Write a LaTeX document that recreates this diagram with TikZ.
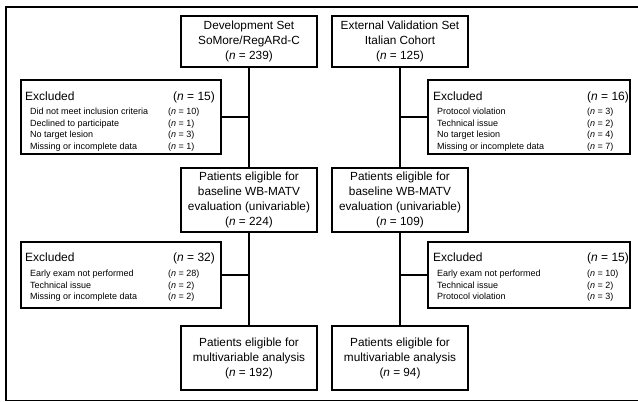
\documentclass[tikz,border=0pt]{standalone}
\usepackage{fontspec}
\setmainfont{Liberation Sans}
\newcommand{\nn}[1]{(\textit{n} = #1)}
\begin{document}
\begin{tikzpicture}[x=1pt,y=-1pt,
  box/.style={draw, line width=1.2pt, minimum width=136pt, align=center,
    font=\fontsize{11.8}{15}\selectfont, inner sep=0pt},
  exbox/.style={draw, line width=1.2pt, inner sep=0pt},
  conn/.style={line width=1.7pt},
  hdr/.style={anchor=base west, inner sep=0pt, font=\fontsize{12}{14}\selectfont},
  itm/.style={anchor=base west, inner sep=0pt, font=\fontsize{9}{11}\selectfont}]
\useasboundingbox (0,0) rectangle (638,402);
\draw[line width=1.5pt] (638,7) -- (6,7) -- (6,400.5) -- (638,400.5);

% top boxes
\node[box, minimum height=51pt] (dev) at (249,41.5) {Development Set\\SoMore/RegARd-C\\\nn{239}};
\node[box, minimum height=51pt] (val) at (400,41.5) {External Validation Set\\Italian Cohort\\\nn{125}};

% baseline boxes
\node[box, minimum height=64pt] (base1) at (249,200) {Patients eligible for\\baseline WB-MATV\\evaluation (univariable)\\\nn{224}};
\node[box, minimum height=64pt] (base2) at (400,200) {Patients eligible for\\baseline WB-MATV\\evaluation (univariable)\\\nn{109}};

% final boxes
\node[box, minimum height=64pt] (fin1) at (249,358) {Patients eligible for\\multivariable analysis\\\nn{192}};
\node[box, minimum height=64pt] (fin2) at (400,358) {Patients eligible for\\multivariable analysis\\\nn{94}};

% excluded boxes
\node[exbox, minimum width=200pt, minimum height=74pt] (exA) at (121,117) {};
\node[exbox, minimum width=202pt, minimum height=74pt] (exB) at (529,117) {};
\node[exbox, minimum width=200pt, minimum height=66pt] (exC) at (121,275) {};
\node[exbox, minimum width=202pt, minimum height=66pt] (exD) at (529,275) {};

% exA text
\node[hdr] (exAh) at (25,100.5) {Excluded};
\node[hdr] (exAn) at (173,100.5) {\nn{15}};
\node[itm] (exA1) at (30,114.5) {Did not meet inclusion criteria};
\node[itm] (exA2) at (30,126.2) {Declined to participate};
\node[itm] (exA3) at (30,137.9) {No target lesion};
\node[itm] (exA4) at (30,149.6) {Missing or incomplete data};
\node[itm] (exA1n) at (168,114.5) {\nn{10}};
\node[itm] (exA2n) at (168,126.2) {\nn{1}};
\node[itm] (exA3n) at (168,137.9) {\nn{3}};
\node[itm] (exA4n) at (168,149.6) {\nn{1}};

% exB text
\node[hdr] (exBh) at (433,100.5) {Excluded};
\node[hdr] (exBn) at (587,100.5) {\nn{16}};
\node[itm] (exB1) at (437,114.5) {Protocol violation};
\node[itm] (exB2) at (437,126.2) {Technical issue};
\node[itm] (exB3) at (437,137.9) {No target lesion};
\node[itm] (exB4) at (437,149.6) {Missing or incomplete data};
\node[itm] (exB1n) at (587,114.5) {\nn{3}};
\node[itm] (exB2n) at (587,126.2) {\nn{2}};
\node[itm] (exB3n) at (587,137.9) {\nn{4}};
\node[itm] (exB4n) at (587,149.6) {\nn{7}};

% exC text
\node[hdr] (exCh) at (25,261) {Excluded};
\node[hdr] (exCn) at (173,261) {\nn{32}};
\node[itm] (exC1) at (30,276.2) {Early exam not performed};
\node[itm] (exC2) at (30,288) {Technical issue};
\node[itm] (exC3) at (30,299.8) {Missing or incomplete data};
\node[itm] (exC1n) at (168,276.2) {\nn{28}};
\node[itm] (exC2n) at (168,288) {\nn{2}};
\node[itm] (exC3n) at (168,299.8) {\nn{2}};

% exD text
\node[hdr] (exDh) at (433,261) {Excluded};
\node[hdr] (exDn) at (587,261) {\nn{15}};
\node[itm] (exD1) at (437,276.2) {Early exam not performed};
\node[itm] (exD2) at (437,288) {Technical issue};
\node[itm] (exD3) at (437,299.8) {Protocol violation};
\node[itm] (exD1n) at (587,276.2) {\nn{10}};
\node[itm] (exD2n) at (587,288) {\nn{2}};
\node[itm] (exD3n) at (587,299.8) {\nn{3}};

% connectors
\draw[conn] (dev) -- (base1);
\draw[conn] (base1) -- (fin1);
\draw[conn] (val) -- (base2);
\draw[conn] (base2) -- (fin2);
\draw[conn] (exA.east) -- (exA.east -| dev.south);
\draw[conn] (exC.east) -- (exC.east -| base1.south);
\draw[conn] (exB.west) -- (exB.west -| val.south);
\draw[conn] (exD.west) -- (exD.west -| base2.south);
\end{tikzpicture}
\end{document}
